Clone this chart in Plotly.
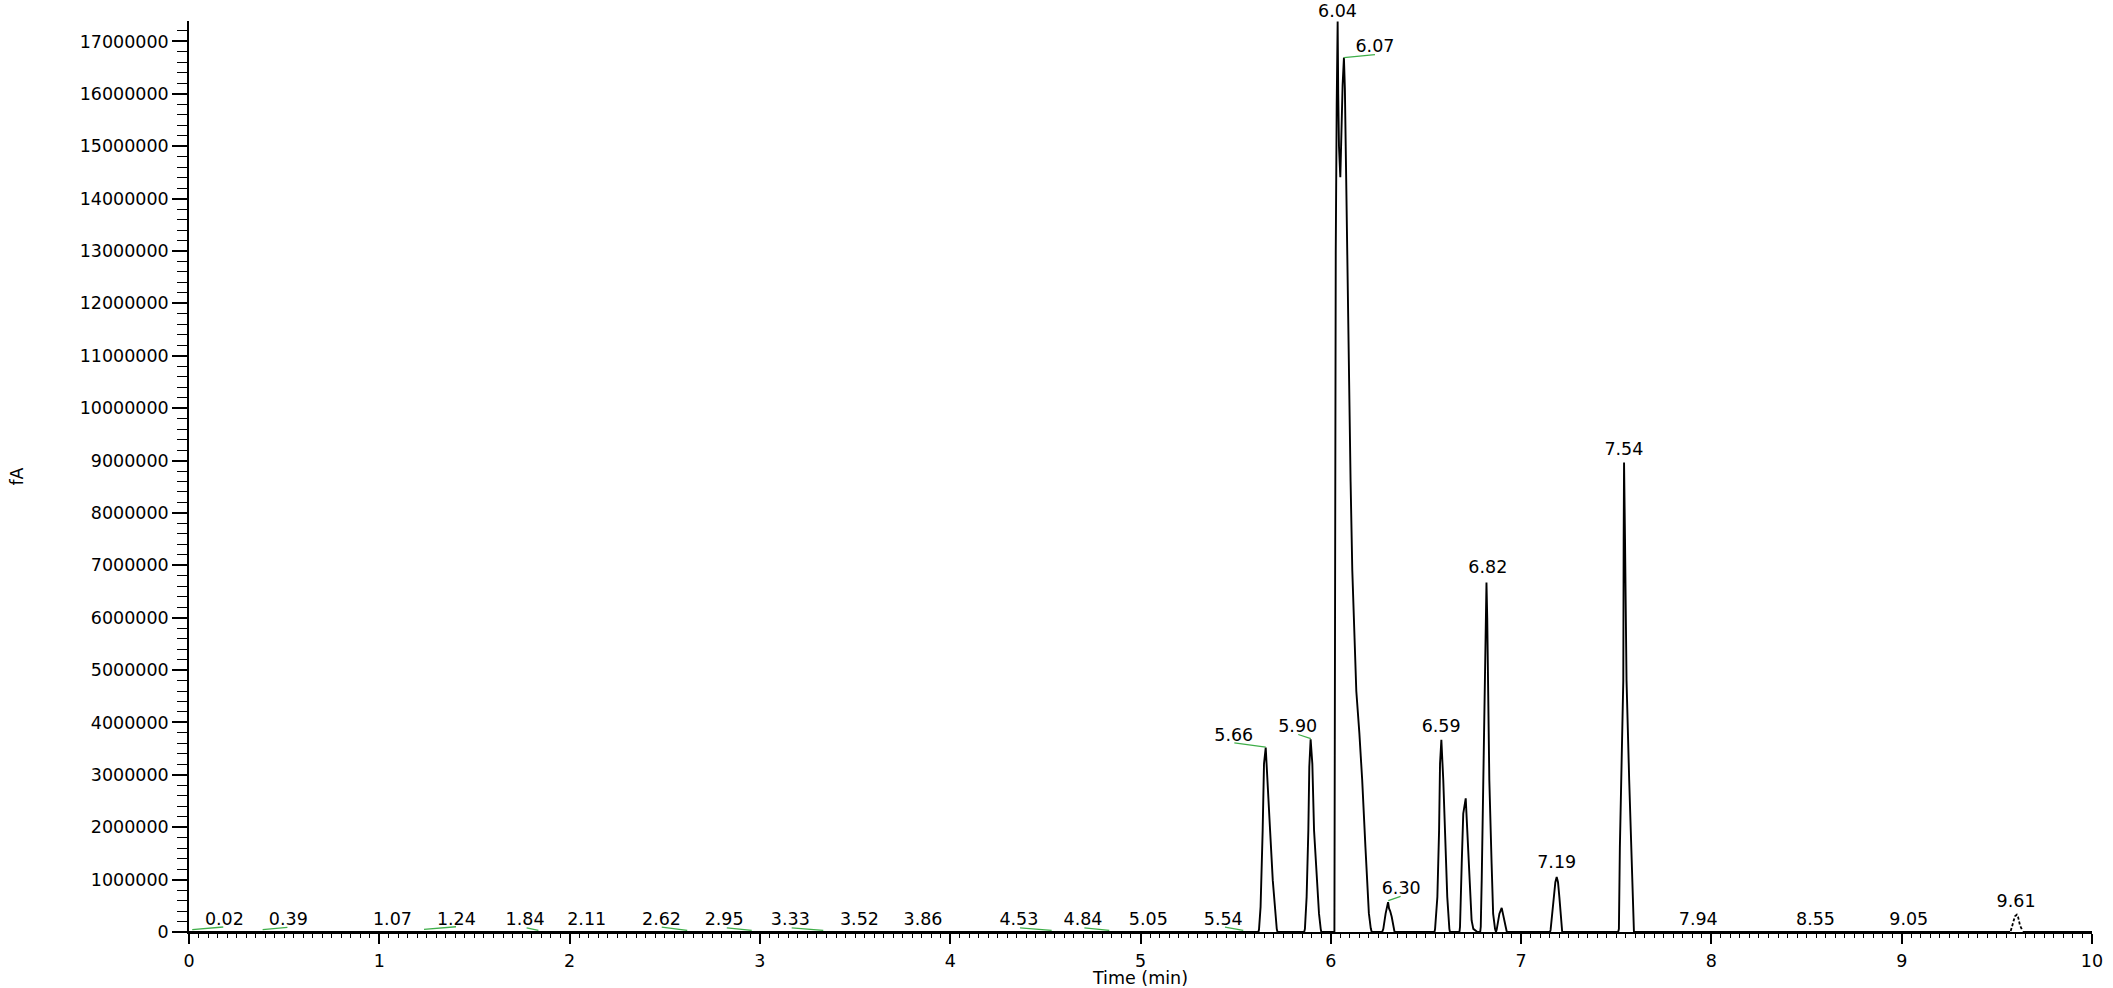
import plotly.graph_objects as go

FONT = "DejaVu Sans"

# ---- chromatogram signal (solid part), time in min, signal in fA ----
trace_time = [
    0.000, 5.620,
    5.623, 5.631, 5.642, 5.649, 5.658, 5.666, 5.681, 5.695, 5.707, 5.716, 5.720,
    5.860, 5.864, 5.873, 5.882, 5.887, 5.894, 5.903, 5.912, 5.926, 5.938, 5.947, 5.950,
    6.019, 6.021, 6.023, 6.026, 6.031, 6.036, 6.039, 6.043, 6.050, 6.056, 6.062, 6.069,
    6.074, 6.080, 6.086, 6.092, 6.104, 6.113, 6.124, 6.134, 6.150, 6.165, 6.182, 6.200,
    6.210, 6.215,
    6.270, 6.276, 6.288, 6.296, 6.301, 6.306, 6.312, 6.320, 6.332, 6.335,
    6.545, 6.548, 6.560, 6.569, 6.574, 6.581, 6.591, 6.604, 6.612, 6.623, 6.626,
    6.676, 6.679, 6.688, 6.696, 6.709, 6.717, 6.728, 6.740, 6.749, 6.760, 6.770,
    6.785, 6.788, 6.793, 6.801, 6.807, 6.811, 6.814, 6.818, 6.822, 6.825, 6.833, 6.845,
    6.853, 6.863, 6.868,
    6.872, 6.886, 6.898, 6.902, 6.906, 6.912, 6.919, 6.925,
    7.152, 7.155, 7.170, 7.180, 7.187, 7.194, 7.201, 7.213, 7.216,
    7.510, 7.514, 7.519, 7.528, 7.537, 7.539, 7.541, 7.546, 7.550, 7.554, 7.568, 7.581,
    7.590, 7.593,
    9.570,
]
trace_fa = [
    0.0, 0.0,
    0.06e6, 0.48e6, 1.94e6, 3.21e6, 3.52e6, 2.90e6, 1.94e6, 0.99e6, 0.35e6, 0.06e6, 0.0,
    0.0, 0.06e6, 0.67e6, 1.94e6, 3.15e6, 3.68e6, 3.21e6, 1.94e6, 0.99e6, 0.35e6, 0.06e6, 0.0,
    0.0, 4.0e6, 10.0e6, 13.0e6, 15.8e6, 17.38e6, 16.0e6, 15.0e6, 14.41e6, 15.6e6, 16.16e6, 16.69e6,
    16.1e6, 14.6e6, 12.9e6, 10.9e6, 8.6e6, 6.9e6, 5.6e6, 4.6e6, 3.8e6, 2.9e6, 1.62e6, 0.36e6,
    0.07e6, 0.0,
    0.0, 0.06e6, 0.35e6, 0.52e6, 0.57e6, 0.45e6, 0.40e6, 0.29e6, 0.06e6, 0.0,
    0.0, 0.06e6, 0.67e6, 1.94e6, 3.21e6, 3.67e6, 2.90e6, 1.62e6, 0.67e6, 0.06e6, 0.0,
    0.0, 0.10e6, 1.31e6, 2.26e6, 2.55e6, 1.94e6, 0.99e6, 0.22e6, 0.06e6, 0.02e6, 0.0,
    0.0, 0.10e6, 0.99e6, 2.90e6, 4.17e6, 5.80e6, 6.20e6, 6.67e6, 6.00e6, 4.80e6, 2.90e6, 1.31e6,
    0.35e6, 0.06e6, 0.0,
    0.05e6, 0.35e6, 0.46e6, 0.38e6, 0.35e6, 0.20e6, 0.10e6, 0.0,
    0.0, 0.04e6, 0.67e6, 0.95e6, 1.05e6, 0.95e6, 0.67e6, 0.06e6, 0.0,
    0.0, 0.06e6, 1.62e6, 3.53e6, 4.80e6, 7.50e6, 8.96e6, 7.50e6, 6.00e6, 4.80e6, 2.90e6, 1.31e6,
    0.06e6, 0.0,
    0.0,
]

# ---- small late peak drawn dashed ----
peak961_time = [9.573, 9.585, 9.595, 9.605, 9.612, 9.622, 9.636]
peak961_fa = [0.02e6, 0.18e6, 0.30e6, 0.33e6, 0.28e6, 0.12e6, 0.02e6]
tail_time = [9.636, 10.0]
tail_fa = [0.0, 0.0]

# ---- integration baselines (green) ----
bl_t0 = [0.017, 0.387, 1.235, 1.774, 2.484, 2.826, 3.167, 4.367, 4.705, 5.444, 5.493, 5.829, 6.069, 6.302]
bl_t1 = [0.180, 0.517, 1.403, 1.836, 2.618, 2.957, 3.333, 4.533, 4.836, 5.540, 5.658, 5.895, 6.232, 6.367]
bl_v0 = [0.046e6, 0.046e6, 0.05e6, 0.08e6, 0.095e6, 0.08e6, 0.08e6, 0.08e6, 0.08e6, 0.095e6, 3.61e6, 3.77e6, 16.69e6, 0.60e6]
bl_v1 = [0.095e6, 0.09e6, 0.10e6, 0.03e6, 0.03e6, 0.03e6, 0.03e6, 0.03e6, 0.03e6, 0.03e6, 3.53e6, 3.69e6, 16.75e6, 0.68e6]

# ---- retention-time labels (peak at the top of the plot is labelled separately) ----
label_text = ["0.02", "0.39", "1.07", "1.24", "1.84", "2.11", "2.62", "2.95", "3.33", "3.52",
              "3.86", "4.53", "4.84", "5.05", "5.54", "5.66", "5.90", "6.07", "6.30",
              "6.59", "6.82", "7.19", "7.54", "7.94", "8.55", "9.05", "9.61"]
label_x = [0.186, 0.522, 1.069, 1.405, 1.766, 2.090, 2.483, 2.812, 3.160, 3.523,
           3.857, 4.361, 4.698, 5.041, 5.435, 5.490, 5.826, 6.232, 6.370,
           6.580, 6.825, 7.187, 7.540, 7.931, 8.547, 9.037, 9.601]
label_y = [0.208e6, 0.208e6, 0.208e6, 0.208e6, 0.208e6, 0.208e6, 0.208e6, 0.208e6, 0.208e6, 0.208e6,
           0.208e6, 0.208e6, 0.208e6, 0.208e6, 0.208e6, 3.73e6, 3.91e6, 16.89e6, 0.81e6,
           3.91e6, 6.93e6, 1.30e6, 9.19e6, 0.208e6, 0.208e6, 0.208e6, 0.57e6]
top_label_text = "6.04"
top_label_x = 6.033

FS = 17.5

fig = go.Figure()
fig.add_trace(go.Scatter(x=trace_time, y=trace_fa, mode="lines",
                         line=dict(color="black", width=1.9), hoverinfo="skip"))
fig.add_trace(go.Scatter(x=tail_time, y=tail_fa, mode="lines",
                         line=dict(color="black", width=1.9), hoverinfo="skip"))
fig.add_trace(go.Scatter(x=peak961_time, y=peak961_fa, mode="lines",
                         line=dict(color="black", width=1.8, dash="3px,2px"), hoverinfo="skip"))

bx, by = [], []
for t0, t1, v0, v1 in zip(bl_t0, bl_t1, bl_v0, bl_v1):
    bx += [t0, t1, None]
    by += [v0, v1, None]
fig.add_trace(go.Scatter(x=bx, y=by, mode="lines",
                         line=dict(color="#3fae49", width=1.3), hoverinfo="skip"))

fig.add_trace(go.Scatter(x=label_x, y=label_y, mode="text", text=label_text,
                         textposition="middle center",
                         textfont=dict(family=FONT, size=FS, color="black"),
                         cliponaxis=False, hoverinfo="skip"))

fig.add_annotation(x=top_label_x, xref="x", y=1, yref="paper", text=top_label_text,
                   showarrow=False, xanchor="center", yanchor="middle", yshift=10,
                   font=dict(family=FONT, size=FS, color="black"))

fig.update_layout(
    template="none",
    width=2113, height=988,
    margin=dict(l=189, r=21, t=21, b=56, pad=0),
    plot_bgcolor="white", paper_bgcolor="white",
    showlegend=False,
    font=dict(family=FONT, size=FS, color="black"),
    xaxis=dict(range=[0, 10], tick0=0, dtick=1, ticks="outside", ticklen=10,
               tickwidth=1.5, tickcolor="black", showline=True, linecolor="black",
               linewidth=1.5, showgrid=False, zeroline=False, ticklabelstandoff=2,
               automargin=False,
               minor=dict(dtick=0.05, tick0=0, ticks="outside", ticklen=4,
                          tickcolor="black", tickwidth=1.2, showgrid=False),
               title=dict(text="Time (min)", standoff=6,
                          font=dict(family=FONT, size=FS, color="black")),
               tickfont=dict(family=FONT, size=FS, color="black")),
    xaxis2=dict(range=[0, 10], overlaying="x", anchor="y", side="bottom",
                tick0=0, dtick=0.2, ticks="outside", ticklen=7, tickwidth=1.2,
                tickcolor="black", showticklabels=False, showline=False,
                showgrid=False, zeroline=False, automargin=False),
    yaxis=dict(range=[0, 17.39e6], tick0=0, dtick=1e6, tickformat="d",
               ticks="outside", ticklen=15, tickwidth=1.5, tickcolor="black",
               showline=True, linecolor="black", linewidth=1.5,
               showgrid=False, zeroline=False, automargin=False,
               minor=dict(dtick=2e5, tick0=0, ticks="outside", ticklen=10,
                          tickcolor="black", tickwidth=1.2, showgrid=False),
               title=dict(text="fA", standoff=52,
                          font=dict(family=FONT, size=FS, color="black")),
               tickfont=dict(family=FONT, size=FS, color="black")),
)

fig.write_html("out.html", config={"displayModeBar": False},
               post_script="document.body.style.margin='0';document.body.style.overflow='hidden';")
